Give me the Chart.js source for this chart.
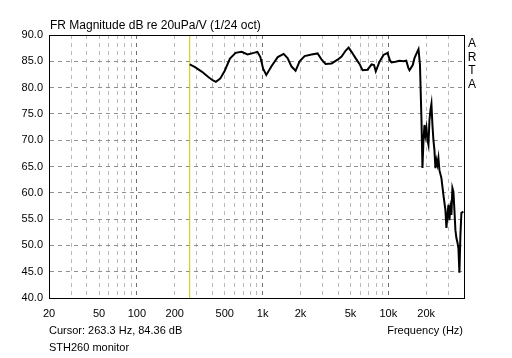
<!DOCTYPE html>
<html>
<head>
<meta charset="utf-8">
<title>STH260 monitor - FR Magnitude</title>
<script src="https://cdn.jsdelivr.net/npm/chart.js@4.4.1/dist/chart.umd.min.js"></script>
<style>
    html, body { margin: 0; padding: 0; background: #fff; }
    canvas { display: block; }
</style>
</head>
<body>
<canvas id="frChart" width="512" height="358"></canvas>
<script>
// FR magnitude, 1/24 oct smoothing
const freqHz = [
    263.3, 290, 330, 370, 400, 425, 460, 500, 550, 610,
    680, 760, 850, 910, 960, 1010, 1070, 1180, 1320, 1470,
    1580, 1700, 1830, 1970, 2160, 2450, 2740, 2950, 3170, 3540,
    3950, 4250, 4570, 4830, 5100, 5490, 5900, 6240, 6840, 7360,
    7700, 7950, 8500, 9160, 9850, 10300, 10600, 11400, 12270, 13200,
    13900, 14400, 14740, 15650, 16150, 17060, 17380, 17860, 18360, 18690,
    19040, 19390, 19740, 20110, 20480, 20860, 21240, 21640, 22030, 22440,
    22850, 23280, 23700, 24140, 24590, 25040, 25500, 26450, 27430, 28460,
    28990, 29530, 30070, 30630, 31190, 31760, 32350, 32950, 33560, 34180,
    34810, 35450, 36100, 36770, 37460, 38140, 39570
];
const magDb = [
    84.4, 83.9, 83.0, 82.0, 81.4, 81.1, 81.7, 83.2, 85.5, 86.6,
    86.8, 86.3, 86.6, 86.8, 85.8, 83.6, 82.4, 84.1, 85.8, 86.4,
    85.6, 84.0, 83.2, 85.0, 86.0, 86.3, 86.5, 85.3, 84.5, 84.6,
    85.3, 85.9, 87.0, 87.6, 86.8, 85.6, 84.5, 83.3, 83.4, 84.4,
    84.3, 83.1, 84.9, 86.2, 86.6, 85.2, 84.8, 84.9, 85.1, 85.0,
    85.1, 83.8, 83.3, 84.3, 85.6, 86.9, 87.3, 84.3, 73.8, 64.7,
    70.0, 72.9, 71.0, 72.3, 70.0, 69.1, 73.8, 75.7, 76.9, 72.9,
    70.0, 68.1, 64.7, 66.2, 65.3, 66.6, 64.3, 62.8, 59.6, 56.7,
    53.3, 55.8, 57.7, 54.8, 57.1, 55.8, 60.9, 60.2, 56.7, 52.9,
    51.4, 50.6, 49.5, 44.8, 52.0, 56.2, 56.4
];

const cursorHz = 263.3;
const cursorDb = 84.36;

// grid lines on the log axis, and which of them get a label
const gridFreqs = [
    20, 30, 40, 50, 60, 70, 80, 90, 100,
    200, 300, 400, 500, 600, 700, 800, 900, 1000,
    2000, 3000, 4000, 5000, 6000, 7000, 8000, 9000, 10000,
    20000, 30000, 40000
];
const xLabelFreqs = [20, 50, 100, 200, 500, 1000, 2000, 5000, 10000, 20000];
const xLabelTexts = ['20', '50', '100', '200', '500', '1k', '2k', '5k', '10k', '20k'];
const decadeFreqs = [100, 1000, 10000];

const FONT = 'Arial, "Liberation Sans", sans-serif';

// frame + all the ARTA annotation text
const artaFrame = {
    id: 'artaFrame',
    afterDraw(chart) {
        const ctx = chart.ctx;
        const a = chart.chartArea;
        ctx.save();
        ctx.strokeStyle = '#000';
        ctx.lineWidth = 1;
        ctx.strokeRect(a.left + 0.5, a.top + 0.5, a.right - a.left, a.bottom - a.top);

        ctx.fillStyle = '#000';
        ctx.textBaseline = 'alphabetic';
        ctx.font = '12px ' + FONT;
        ctx.textAlign = 'left';
        ctx.fillText('FR Magnitude dB re 20uPa/V (1/24 oct)', 50, 29);

        ctx.font = '11px ' + FONT;
        ctx.fillText('Cursor: ' + cursorHz.toFixed(1) + ' Hz, ' + cursorDb.toFixed(2) + ' dB', 49, 334);
        ctx.fillText('STH260 monitor', 49, 351);
        ctx.textAlign = 'right';
        ctx.fillText('Frequency (Hz)', 463, 334);

        ctx.font = '12px ' + FONT;
        ctx.textAlign = 'center';
        ['A', 'R', 'T', 'A'].forEach((ch, i) => {
            ctx.fillText(ch, 472, 47 + i * 13.7);
        });
        ctx.restore();
    }
};

const ctx = document.getElementById('frChart').getContext('2d');
new Chart(ctx, {
    type: 'line',
    data: {
        datasets: [
            {
                label: 'STH260 monitor',
                data: freqHz.map((f, i) => ({ x: f, y: magDb[i] })),
                borderColor: '#000',
                borderWidth: 2,
                pointRadius: 0,
                tension: 0,
                order: 1
            },
            {
                label: 'cursor',
                data: [{ x: cursorHz, y: 40 }, { x: cursorHz, y: 90 }],
                borderColor: '#c8c400',
                borderWidth: 1,
                pointRadius: 0,
                order: 2
            }
        ]
    },
    options: {
        responsive: false,
        animation: false,
        layout: { padding: { top: 35, right: 48, left: 0, bottom: 0 } },
        plugins: {
            legend: { display: false },
            tooltip: { enabled: false }
        },
        scales: {
            x: {
                type: 'logarithmic',
                min: 20,
                max: 40000,
                afterBuildTicks: scale => {
                    scale.ticks = gridFreqs.map(v => ({ value: v }));
                },
                afterFit: scale => { scale.height = 60; },
                ticks: {
                    autoSkip: false,
                    maxRotation: 0,
                    padding: 9,
                    color: '#000',
                    font: { family: FONT, size: 11 },
                    callback: value => {
                        const k = xLabelFreqs.indexOf(value);
                        return k >= 0 ? xLabelTexts[k] : '';
                    }
                },
                grid: {
                    drawTicks: false,
                    lineWidth: 1,
                    color: c => decadeFreqs.includes(c.tick && c.tick.value) ? '#6e6e6e' : '#b9b9b9'
                },
                border: { display: true, color: '#000', width: 1, dash: [4, 4] }
            },
            y: {
                type: 'linear',
                min: 40,
                max: 90,
                afterFit: scale => { scale.width = 49; },
                ticks: {
                    stepSize: 5,
                    padding: 6,
                    color: '#000',
                    font: { family: FONT, size: 11 },
                    callback: v => v.toFixed(1)
                },
                grid: {
                    drawTicks: false,
                    lineWidth: 1,
                    color: '#8e8e8e'
                },
                border: { display: true, color: '#000', width: 1, dash: [4, 4] }
            }
        }
    },
    plugins: [artaFrame]
});
</script>
</body>
</html>
